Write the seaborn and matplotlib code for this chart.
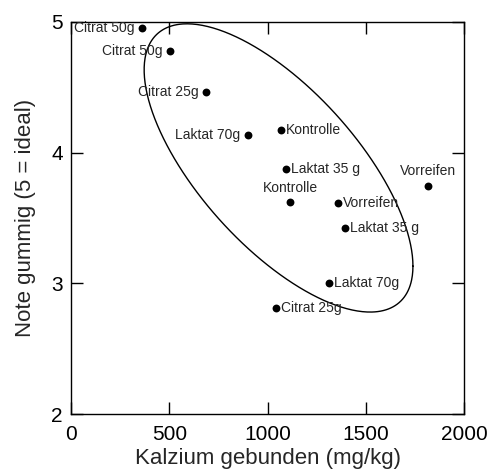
import numpy as np
import pandas as pd
import matplotlib
matplotlib.use("Agg")
import matplotlib.pyplot as plt
import seaborn as sns

# ---- data ----
labels = ["Citrat 50g", "Citrat 50g", "Citrat 25g", "Laktat 70g", "Kontrolle",
          "Laktat 35 g", "Kontrolle", "Vorreifen", "Laktat 35 g", "Laktat 70g",
          "Citrat 25g", "Vorreifen"]
calcium = [361, 504, 687, 901, 1069, 1093, 1116, 1359, 1393, 1315, 1043, 1818]
note = [4.95, 4.78, 4.46, 4.135, 4.17, 3.875, 3.62, 3.615, 3.42, 3.0, 2.81, 3.745]
label_side = ["left", "left", "left", "left", "right", "right", "above",
              "right", "right", "right", "right", "above"]

x_ticks = [0, 500, 1000, 1500, 2000]
y_ticks = [2, 3, 4, 5]

# ellipse (data units): centre, half-widths, phase between x and y
ell_cx, ell_cy = 1056, 3.883
ell_rx, ell_ry = 684, 1.102
ell_phase = 2.32

df = pd.DataFrame({"Ca": calcium, "Note": note, "label": labels})

sns.set_style("ticks")
plt.rcParams["font.family"] = ["Liberation Sans", "DejaVu Sans"]

fig = plt.figure(figsize=(4.9, 4.75), dpi=100)
ax = fig.add_axes([0.145, 0.128, 0.802, 0.826])

sns.scatterplot(data=df, x="Ca", y="Note", ax=ax, color="black", s=32,
                edgecolor="black", linewidth=0, zorder=3)

t = np.linspace(0, 2 * np.pi, 400)
ax.plot(ell_cx + ell_rx * np.cos(t), ell_cy + ell_ry * np.cos(t + ell_phase),
        color="black", lw=1.0)

for xv, yv, lab, side in zip(calcium, note, labels, label_side):
    if side == "left":
        ax.annotate(lab, (xv, yv), xytext=(-5.5, 0), textcoords="offset points",
                    ha="right", va="center", fontsize=10)
    elif side == "right":
        ax.annotate(lab, (xv, yv), xytext=(3.5, 0), textcoords="offset points",
                    ha="left", va="center", fontsize=10)
    else:
        ax.annotate(lab, (xv, yv), xytext=(0, 10.5), textcoords="offset points",
                    ha="center", va="center", fontsize=10)

ax.set_xlim(0, 2000)
ax.set_ylim(2, 5)
ax.set_xticks(x_ticks)
ax.set_yticks(y_ticks)
ax.tick_params(direction="in", length=8.5, width=1, labelsize=15,
               top=True, right=True, colors="black")
ax.tick_params(axis="x", pad=8)
ax.tick_params(axis="y", pad=6)
for sp in ax.spines.values():
    sp.set_linewidth(1.0)
    sp.set_color("black")
ax.set_xlabel("Kalzium gebunden (mg/kg)", fontsize=16, labelpad=3)
ax.set_ylabel("Note gummig (5 = ideal)", fontsize=16, labelpad=11)

fig.savefig("out.png", dpi=100)
